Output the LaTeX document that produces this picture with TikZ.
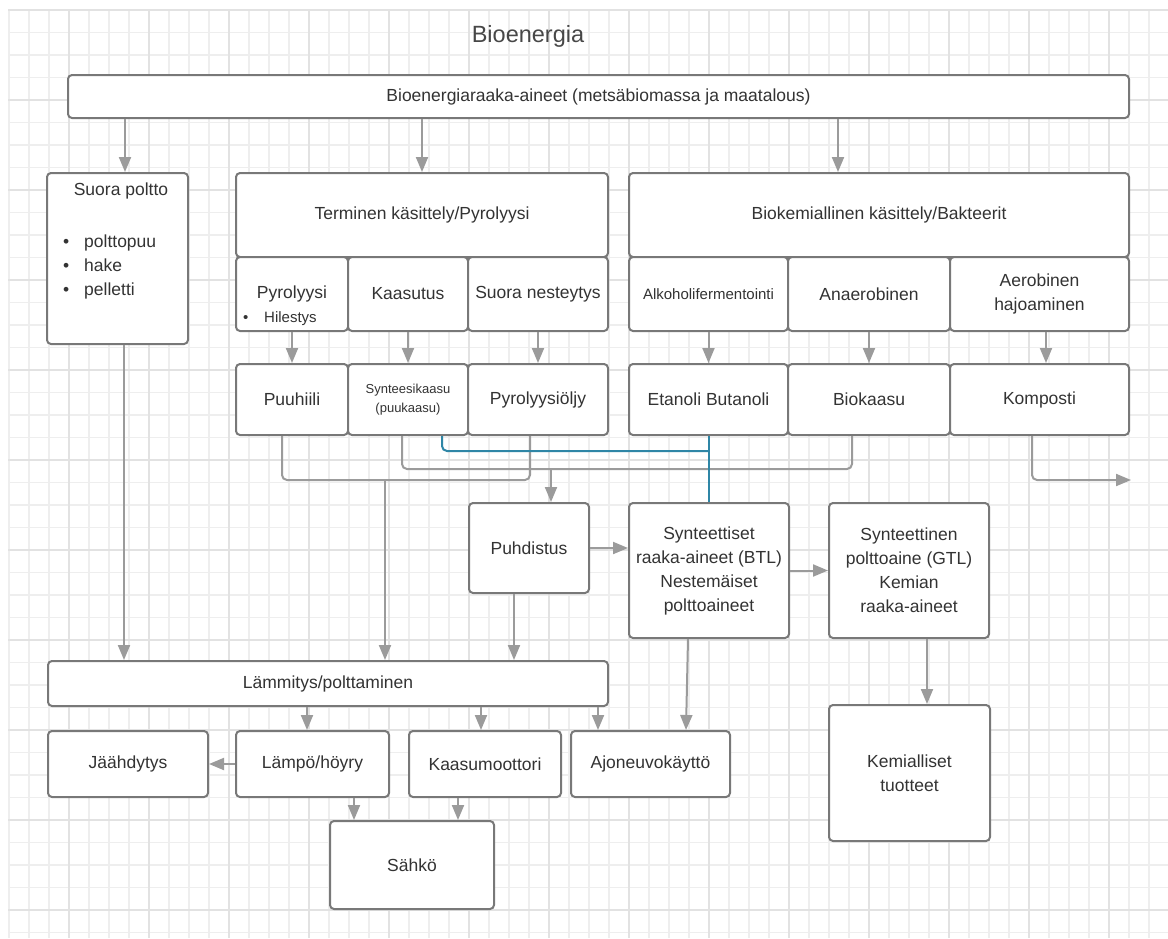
\documentclass[tikz,border=0pt]{standalone}
\usepackage{fontspec}
\setmainfont{Liberation Sans}
\usetikzlibrary{arrows.meta,calc}
\definecolor{boxgray}{HTML}{787878}
\definecolor{lngray}{HTML}{9B9B9B}
\definecolor{txtgray}{HTML}{333333}
\definecolor{lineblue}{HTML}{2F86A6}
\definecolor{gridminor}{HTML}{EEEEEE}
\definecolor{gridmajor}{HTML}{E2E2E2}
\newcommand{\boxfont}{\fontsize{17.5}{24}\selectfont}
\newcommand{\blt}{\makebox[21pt][l]{\textbullet}}
\tikzset{
  box/.style={draw=boxgray, line width=2pt, rounded corners=4pt, fill=white,
    text=txtgray, align=center, inner sep=2pt, font=\boxfont},
  sz/.style 2 args={minimum width=#1pt, minimum height=#2pt},
  txt/.style={text=txtgray, align=center, inner sep=0pt, font=\boxfont},
  heading/.style={text=txtgray!90, inner sep=0pt, font=\fontsize{23.5}{28}\selectfont},
  ln/.style={draw=lngray, line width=2pt, rounded corners=5pt},
  arr/.style={ln, -{Triangle[length=15pt,width=12pt]}},
  blueln/.style={draw=lineblue, line width=2pt, rounded corners=5pt},
}

\begin{document}
\begin{tikzpicture}[x=1pt,y=-1pt]
            \useasboundingbox[fill=white] (0,0) rectangle (1168,938);
            \foreach \gx in {9,29,...,1169} \draw[gridminor, line width=1.3pt] (\gx,10) -- (\gx,938);
            \foreach \gy in {10,32.5,...,938} \draw[gridminor, line width=1.8pt] (8,\gy) -- (1168,\gy);
            \foreach \gx in {69,149,...,1149} \draw[gridmajor, line width=1.6pt] (\gx,10) -- (\gx,938);
            \foreach \gy in {10,100,...,910} \draw[gridmajor, line width=2.6pt] (8,\gy) -- (1168,\gy);

            \node[heading] (ttl) at (528,36) {Bioenergia};
            \node[box, sz={1061}{43}] (raaka) at (598.5,96.5) {Bioenergiaraaka-aineet (metsäbiomassa ja maatalous)};

            \node[box, sz={141}{171}] (suora) at (117.5,258.5) {};
            \node[txt] (suoraT) at (121,191) {Suora poltto};
            \node[txt, anchor=west, align=left] (suoraL) at (63,267) {\blt polttopuu\\ \blt hake\\ \blt pelletti};

            \node[box, sz={372}{84}] (term) at (422,215) {Terminen käsittely/Pyrolyysi};
            \node[box, sz={112}{74}] (pyro) at (292,294) {Pyrolyysi};
            \node[txt, anchor=west, font=\fontsize{15}{18}\selectfont] (hile) at (243,319) {\blt Hilestys};
            \node[box, sz={120}{74}] (kaas) at (408,294) {Kaasutus};
            \node[box, sz={140}{74}] (nest) at (538,294) {Suora nesteytys};
            \node[box, sz={112}{71}] (puuh) at (292,399.5) {Puuhiili};
            \node[box, sz={120}{71}, font=\fontsize{13}{19}\selectfont] (synk) at (408,399.5) {Synteesikaasu\\(puukaasu)};
            \node[box, sz={140}{71}] (pyoil) at (538,399.5) {Pyrolyysiöljy};

            \node[box, sz={500}{84}] (biok) at (879,215) {Biokemiallinen käsittely/Bakteerit};
            \node[box, sz={159}{74}, font=\fontsize{15}{18}\selectfont] (alko) at (708.5,294) {Alkoholifermentointi};
            \node[box, sz={162}{74}] (anae) at (869,294) {Anaerobinen};
            \node[box, sz={179}{74}] (aero) at (1039.5,294) {Aerobinen\\hajoaminen};
            \node[box, sz={159}{71}] (etan) at (708.5,399.5) {Etanoli Butanoli};
            \node[box, sz={162}{71}] (biokaasu) at (869,399.5) {Biokaasu};
            \node[box, sz={179}{71}] (komp) at (1039.5,399.5) {Komposti};

            \node[box, sz={120}{90}] (puhd) at (529,548) {Puhdistus};
            \node[box, sz={160}{135}] (synt) at (709,570.5) {Synteettiset\\raaka-aineet (BTL)\\Nestemäiset\\polttoaineet};
            \node[box, sz={160}{135}] (gtl) at (909,570.5) {Synteettinen\\polttoaine (GTL)\\Kemian\\raaka-aineet};
            \node[box, sz={161}{136}] (kemi) at (909.5,773) {Kemialliset\\tuotteet};

            \node[box, sz={560}{45}] (lamm) at (328,683.5) {Lämmitys/polttaminen};
            \node[box, sz={160}{66}] (jaah) at (128,764) {Jäähdytys};
            \node[box, sz={153}{66}] (lampo) at (312.5,764) {Lämpö/höyry};
            \node[box, sz={152}{66}] (kmoot) at (485,764) {Kaasumoottori};
            \node[box, sz={159}{66}] (ajon) at (650.5,764) {Ajoneuvokäyttö};
            \node[box, sz={164}{88}] (sahko) at (412,865) {Sähkö};

            \draw[arr] ([xshift=7.5pt]suora.north |- raaka.south) -- ([xshift=7.5pt]suora.north);
            \draw[arr] (term.north |- raaka.south) -- (term.north);
            \draw[arr] ([xshift=-41pt]biok.north |- raaka.south) -- ([xshift=-41pt]biok.north);
            \draw[arr] (pyro) -- (puuh);
            \draw[arr] (kaas) -- (synk);
            \draw[arr] (nest) -- (pyoil);
            \draw[arr] (alko) -- (etan);
            \draw[arr] (anae) -- (biokaasu);
            \draw[arr] ([xshift=6.5pt]aero.south) -- ([xshift=6.5pt]komp.north);

            \coordinate (jl) at (385,480);
            \coordinate (jp) at (551,469);
            \coordinate (jb) at (708.5,451);
            \coordinate (kend) at (1131,480);
            \draw[ln] ([xshift=-10pt]puuh.south) |- (jl) -| ([xshift=-8pt]pyoil.south);
            \draw[arr] (jl) -- (jl |- lamm.north);
            \draw[ln] ([xshift=-6pt]synk.south) |- (jp) -| ([xshift=-17pt]biokaasu.south);
            \draw[arr] (jp) -- (jp |- puhd.north);
            \draw[blueln] ([xshift=34pt]synk.south) |- (jb);
            \draw[blueln] (etan.south) -- (etan.south |- synt.north);
            \draw[arr] ([xshift=-7.5pt]komp.south) |- (kend);

            \draw[arr] ([xshift=6.5pt]suora.south) -- ([xshift=6.5pt]suora.south |- lamm.north);
            \draw[arr] ([xshift=-15pt]puhd.south) -- ([xshift=-15pt]puhd.south |- lamm.north);
            \draw[arr] (puhd.east) -- (puhd.east -| synt.west);
            \draw[arr] (synt) -- (gtl);
            \draw[arr] ([xshift=18pt]gtl.south) -- ([xshift=18pt]gtl.south |- kemi.north);
            \draw[arr] ([xshift=-21pt]synt.south) -- ([xshift=35.5pt]ajon.north);

            \draw[arr] ([xshift=-5.5pt]lampo.north |- lamm.south) -- ([xshift=-5.5pt]lampo.north);
            \draw[arr] ([xshift=-4pt]kmoot.north |- lamm.south) -- ([xshift=-4pt]kmoot.north);
            \draw[arr] ([xshift=-52.5pt]ajon.north |- lamm.south) -- ([xshift=-52.5pt]ajon.north);
            \draw[arr] (lampo) -- (jaah);
            \draw[arr] ([xshift=41.5pt]lampo.south) -- ([xshift=41.5pt]lampo.south |- sahko.north);
            \draw[arr] ([xshift=-27pt]kmoot.south) -- ([xshift=-27pt]kmoot.south |- sahko.north);
        \end{tikzpicture}
\end{document}
